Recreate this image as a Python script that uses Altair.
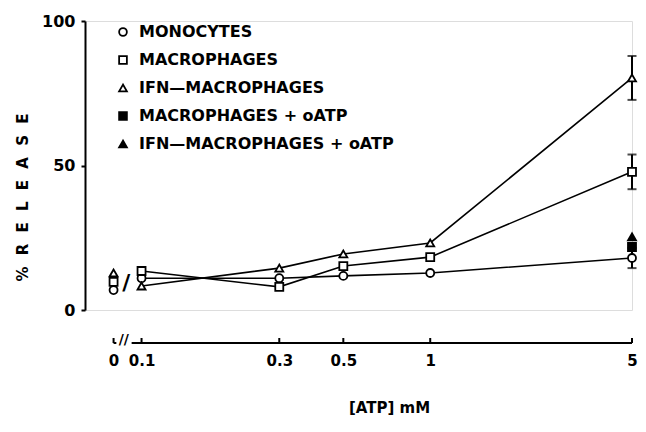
import altair as alt
import pandas as pd

# ---- data ----
atp = [0, 0.1, 0.3, 0.5, 1, 5]
series_names = ["MONOCYTES", "MACROPHAGES", "IFN\u2014MACROPHAGES",
                "MACROPHAGES + oATP", "IFN\u2014MACROPHAGES + oATP"]
monocytes = [6.9, 11.0, 11.0, 11.8, 12.8, 18.0]
macrophages = [9.7, 13.5, 8.0, 15.2, 18.3, 47.8]
ifn_macrophages = [12.8, 8.3, 14.5, 19.4, 23.2, 80.3]

oatp_series = ["MACROPHAGES + oATP", "IFN\u2014MACROPHAGES + oATP"]
oatp_atp = [5, 5]
oatp_release = [21.8, 25.3]

err_series = ["MONOCYTES", "MACROPHAGES", "IFN\u2014MACROPHAGES"]
err_atp = [5, 5, 5]
err_mean = [18.0, 47.8, 80.3]
err_sd = [3.5, 6.0, 7.6]

x_tick_values = [0, 0.1, 0.3, 0.5, 1, 5]
y_tick_values = [0, 50, 100]

# ---- display settings (broken log axis: 0 drawn left of the break) ----
ZERO_POS = 0.08
FONT = "DejaVu Sans"
W, H = 547, 289
AXIS_OFF = 33

rows = []
for name, vals in zip(series_names[:3], [monocytes, macrophages, ifn_macrophages]):
    for a, v in zip(atp, vals):
        rows.append({"series": name, "atp": a, "release": v})
for name, a, v in zip(oatp_series, oatp_atp, oatp_release):
    rows.append({"series": name, "atp": a, "release": v})
df = pd.DataFrame(rows)

err_df = pd.DataFrame({"series": err_series, "atp": err_atp,
                       "lo": [m - s for m, s in zip(err_mean, err_sd)],
                       "hi": [m + s for m, s in zip(err_mean, err_sd)]})

xcalc = f"datum.atp == 0 ? {ZERO_POS} : datum.atp"
xscale = alt.Scale(type="log", domain=[0.0637, 5.0], nice=False)
yscale = alt.Scale(domain=[0, 100], nice=False)

x_axis = alt.Axis(values=[ZERO_POS] + x_tick_values[1:],
                  labelExpr=f"datum.value < 0.09 ? '0' : format(datum.value, '~g')",
                  domain=False, ticks=False, tickSize=0, grid=False,
                  offset=AXIS_OFF, labelPadding=10, labelFont=FONT,
                  labelFontSize=15, labelFontWeight="bold", labelColor="black",
                  labelFlush=False, labelOverlap=False,
                  title="[ATP]  mM", titleFont=FONT, titleFontSize=15,
                  titleFontWeight="bold", titleColor="black",
                  titleX=304, titleY=64, titleBaseline="middle", titleAlign="center")
y_axis = alt.Axis(values=y_tick_values, grid=False, domainColor="black",
                  domainWidth=2, tickColor="black", tickWidth=2, tickSize=4,
                  labelPadding=6, labelFont=FONT, labelFontSize=16,
                  labelFontWeight="bold", labelColor="black",
                  title="%\u2002\u2005R\u2002\u2005E\u2002\u2005L\u2002\u2005E\u2002\u2005A\u2002\u2005S\u2002\u2005E",
                  titleFont=FONT, titleFontSize=15, titleFontWeight="bold",
                  titleColor="black", titleX=-63, titleY=176,
                  titleAlign="center", titleBaseline="middle", titleAngle=270)

base = alt.Chart(df).transform_calculate(xpos=xcalc)

lines = base.transform_filter("datum.atp > 0").transform_filter(
    alt.FieldOneOfPredicate(field="series", oneOf=series_names[:3])
).mark_line(color="black", strokeWidth=1.6).encode(
    x=alt.X("xpos:Q", scale=xscale, axis=x_axis),
    y=alt.Y("release:Q", scale=yscale, axis=y_axis),
    detail="series:N",
    order="xpos:Q",
)

errs = alt.Chart(err_df).mark_rule(color="black", strokeWidth=2).encode(
    x="atp:Q", y="lo:Q", y2="hi:Q")
caps_lo = alt.Chart(err_df).mark_tick(color="black", thickness=2, size=9,
                                      orient="horizontal").encode(x="atp:Q", y="lo:Q")
caps_hi = alt.Chart(err_df).mark_tick(color="black", thickness=2, size=9,
                                      orient="horizontal").encode(x="atp:Q", y="hi:Q")

points = base.mark_point(stroke="black", strokeWidth=1.8, opacity=1, size=64).encode(
    x="xpos:Q",
    y="release:Q",
    shape=alt.Shape("series:N", scale=alt.Scale(
        domain=series_names,
        range=["circle", "square", "triangle-up", "square", "triangle-up"])),
    fill=alt.Fill("series:N", scale=alt.Scale(
        domain=series_names,
        range=["white", "white", "white", "black", "black"]),
        legend=alt.Legend(title=None, orient="none", legendX=30, legendY=3,
                          padding=0, rowPadding=12, labelOffset=8,
                          labelFont=FONT, labelFontSize=16, labelFontWeight="bold",
                          labelColor="black", symbolStrokeColor="black",
                          symbolStrokeWidth=1.8, symbolSize=60, symbolOpacity=1,
                          labelLimit=400)),
)

# axis line with break, drawn below the plot
seg_df = pd.DataFrame({"x": [ZERO_POS, 0.0924], "x2": [0.0818, 5.0]})
axis_line = alt.Chart(seg_df).mark_rule(color="black", strokeWidth=2).encode(
    x="x:Q", x2="x2:Q", y=alt.value(H + AXIS_OFF))
tick_df = pd.DataFrame({"t": [ZERO_POS] + x_tick_values[1:]})
axis_ticks = alt.Chart(tick_df).mark_rule(color="black", strokeWidth=2).encode(
    x="t:Q", y=alt.value(H + AXIS_OFF), y2=alt.value(H + AXIS_OFF - 5))
brk_df = pd.DataFrame({"x": [0.0868], "label": ["//"]})
axis_break = alt.Chart(brk_df).mark_text(font=FONT, fontSize=14, fontWeight="bold",
                                         color="black").encode(
    x="x:Q", y=alt.value(H + AXIS_OFF - 3), text="label:N")
slash_df = pd.DataFrame({"x": [0.0885], "y": [9.5], "label": ["/"]})
data_break = alt.Chart(slash_df).mark_text(font=FONT, fontSize=22, fontWeight="bold",
                                           color="black").encode(
    x="x:Q", y="y:Q", text="label:N")

chart = alt.layer(lines, errs, caps_lo, caps_hi, points, axis_line, axis_ticks,
                  axis_break, data_break).properties(
    width=W, height=H,
    padding={"left": 77, "top": 13, "right": 6, "bottom": 110},
    autosize=alt.AutoSizeParams(type="none"),
).configure_view(stroke=None).configure(background="white")

chart.save("out.html", embed_options={"renderer": "svg", "actions": False})
